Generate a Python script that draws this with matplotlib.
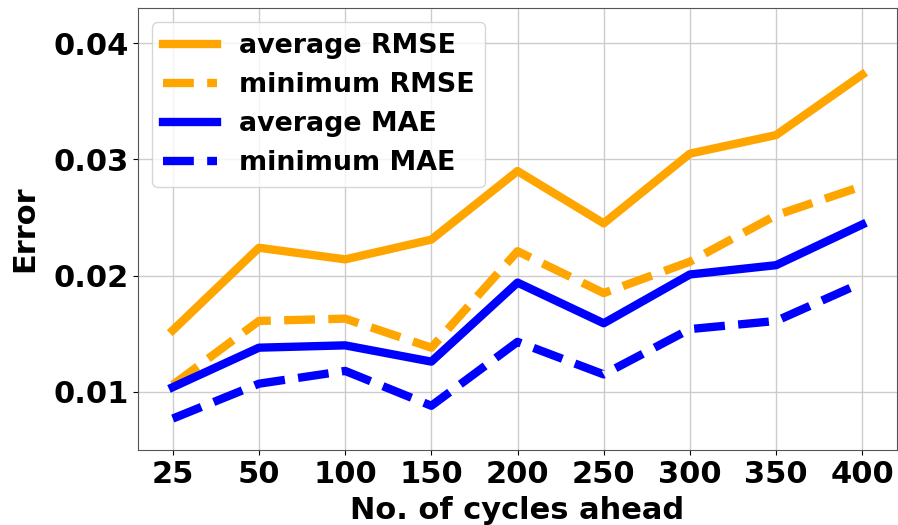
import matplotlib
matplotlib.use("Agg")
import matplotlib.pyplot as plt

# cycles ahead (categorical x axis)
cycles = ["25", "50", "100", "150", "200", "250", "300", "350", "400"]

# errors
avg_rmse = [0.0153, 0.0224, 0.0214, 0.0231, 0.0290, 0.0245, 0.0305, 0.0321, 0.0373]
min_rmse = [0.0106, 0.0161, 0.0163, 0.0138, 0.0221, 0.0185, 0.0212, 0.0252, 0.0277]
avg_mae = [0.0104, 0.0138, 0.0140, 0.0126, 0.0194, 0.0159, 0.0201, 0.0209, 0.0244]
min_mae = [0.0077, 0.0107, 0.0118, 0.0088, 0.0143, 0.0115, 0.0154, 0.0161, 0.0194]

plt.rcParams['font.family'] = 'DejaVu Sans'
plt.rcParams['font.weight'] = 'bold'

fig, ax = plt.subplots(figsize=(8.98, 5.25), dpi=100)
fig.subplots_adjust(left=0.154, right=0.9986, top=0.984, bottom=0.143)

ax.plot(cycles, avg_rmse, color='orange', lw=6, label='average RMSE')
ax.plot(cycles, min_rmse, color='orange', lw=6, ls='--', label='minimum RMSE')
ax.plot(cycles, avg_mae, color='blue', lw=6, label='average MAE')
ax.plot(cycles, min_mae, color='blue', lw=6, ls='--', label='minimum MAE')

ax.set_ylim(0.005, 0.043)
ax.set_yticks([0.01, 0.02, 0.03, 0.04])
ax.tick_params(labelsize=22)
for lbl in ax.get_xticklabels() + ax.get_yticklabels():
    lbl.set_fontweight('bold')

ax.set_xlabel("No. of cycles ahead", fontsize=22, fontweight='bold', labelpad=5)
ax.set_ylabel("Error", fontsize=22, fontweight='bold', labelpad=10)

ax.grid(True, color='#cccccc', lw=1)
for s in ax.spines.values():
    s.set_color('#555555')

leg = ax.legend(loc='upper left', prop={'size': 19.4, 'weight': 'bold'},
                labelspacing=0.48, borderaxespad=0.52)

plt.savefig("out.png")
